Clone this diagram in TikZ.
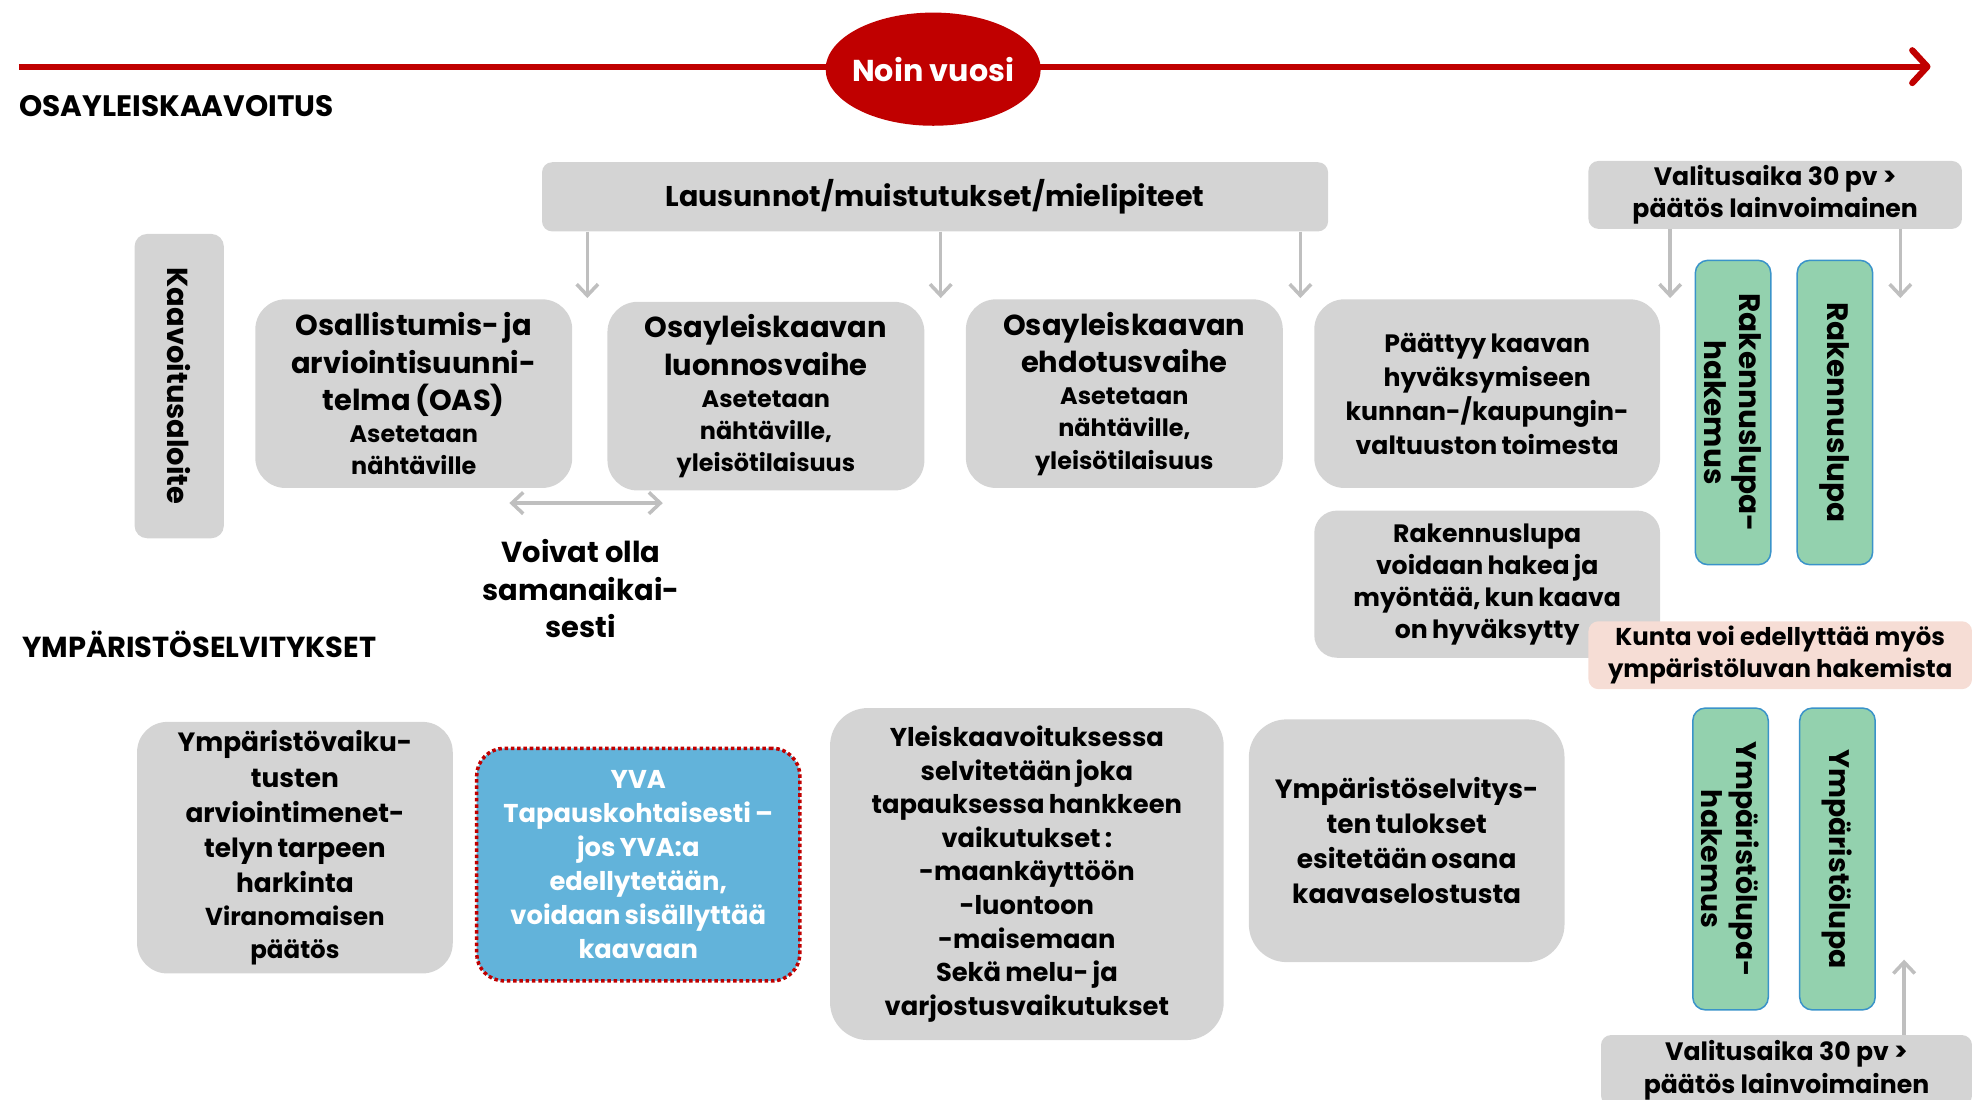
\documentclass[tikz,border=0pt]{standalone}
\usepackage{fontspec}
\setmainfont{Poppins}
\usetikzlibrary{shapes.geometric,arrows.meta}
\definecolor{kred}{HTML}{C00000}
\definecolor{boxgray}{HTML}{D4D4D4}
\definecolor{linegray}{HTML}{BFBFBF}
\definecolor{lupagreen}{HTML}{93D1AE}
\definecolor{lupaedge}{HTML}{3A93C9}
\definecolor{yvablue}{HTML}{62B3DA}
\definecolor{kuntapink}{HTML}{F6DDD5}
\newcommand{\fz}[2]{\fontsize{#1}{#2}\selectfont}
\hyphenpenalty=10000
\exhyphenpenalty=10000

\begin{document}
\begin{tikzpicture}[x=1pt,y=-1pt,
  >={Straight Barb[length=9pt,width=17pt]},
  graybox/.style={fill=boxgray, rounded corners=24pt, align=center, inner sep=0pt, font=\bfseries},
  flatbox/.style={fill=boxgray, rounded corners=8pt, align=center, inner sep=0pt, font=\bfseries\fz{20}{25.5}},
  lupabox/.style={draw=lupaedge, line width=1.2pt, fill=lupagreen, rounded corners=10pt, rotate=-90,
    align=center, inner sep=0pt, minimum height=60pt, font=\bfseries\fz{22.5}{28}},
  garrow/.style={draw=linegray, line width=2.8pt},
  heading/.style={anchor=west, font=\bfseries\fz{23.5}{27}}]
\useasboundingbox (0,0) rectangle (1568,874);

% aikajana
\coordinate (alku) at (15,53);
\coordinate (loppu) at (1535,53);
\draw[kred, line width=5pt, -{Straight Barb[length=12pt,width=26pt,round]}] (alku) -- (loppu);
\node[ellipse, fill=kred, inner xsep=-4pt, minimum width=171pt, minimum height=90pt, text=white, font=\bfseries\fz{24}{28}] (vuosi) at (742,55) {Noin vuosi};

\node[heading] (osa) at (12,84) {OSAYLEISKAAVOITUS};
\node[heading, font=\bfseries\fz{23}{27}] (ymp) at (14,512) {YMPÄRISTÖSELVITYKSET};

% kaavoitus
\node[flatbox, minimum width=625pt, minimum height=55pt, font=\bfseries\fz{22.7}{28}] (laus) at (743.5,156.5) {Lausunnot/muistutukset/mielipiteet};
\node[graybox, rounded corners=10pt, rotate=-90, minimum width=242pt, minimum height=71pt, font=\bfseries\fz{23}{26}] (aloite) at (142.5,307) {Kaavoitusaloite};
\node[graybox, minimum width=252pt, minimum height=150pt, text width=246pt] (oas) at (329,313)
  {\fz{23}{30}Osallistumis- ja\\arviointisuunni-\\telma (OAS)\par\fz{19}{25.5}Asetetaan\\nähtäville\par};
\node[graybox, minimum width=252pt, minimum height=150pt, text width=246pt] (luonnos) at (609,315)
  {\fz{23}{30}Osayleiskaavan\\luonnosvaihe\par\fz{19}{25.5}Asetetaan\\nähtäville,\\yleisötilaisuus\par};
\node[graybox, minimum width=252pt, minimum height=150pt, text width=246pt] (ehdotus) at (894,313)
  {\fz{23}{30}Osayleiskaavan\\ehdotusvaihe\par\fz{19}{25.5}Asetetaan\\nähtäville,\\yleisötilaisuus\par};
\node[graybox, minimum width=275pt, minimum height=150pt, text width=269pt] (paattyy) at (1182.5,313)
  {\fz{20}{27}Päättyy kaavan\\hyväksymiseen\\kunnan-/kaupungin-\\valtuuston toimesta\par};
\node[graybox, rounded corners=18pt, minimum width=275pt, minimum height=117pt, text width=269pt] (rlupa) at (1182.5,464.5)
  {\fz{20}{25.5}Rakennuslupa\\voidaan hakea ja\\myöntää, kun kaava\\on hyväksytty\par};
\node[flatbox, fill=kuntapink, minimum width=305pt, minimum height=54pt, font=\bfseries\fz{19.4}{25.5}] (kunta) at (1415.5,521)
  {Kunta voi edellyttää myös\\ympäristöluvan hakemista};
\node[flatbox, minimum width=297pt, minimum height=54pt] (valitus) at (1411.5,155)
  {Valitusaika 30 pv >\\päätös lainvoimainen};
\node[lupabox, minimum width=242pt, font=\bfseries\fz{23.5}{28}] (rlhak) at (1378,328) {Rakennuslupa-\\hakemus};
\node[lupabox, minimum width=242pt, font=\bfseries\fz{23.5}{28}] (rl) at (1459,328) {Rakennuslupa};

\coordinate (g1) at (467,237);
\coordinate (g2) at (748,237);
\coordinate (g3) at (1034,237);
\coordinate (v1) at (1328,237);
\coordinate (v2) at (1511,237);
\draw[garrow,->] (laus.south -| g1) -- (g1);
\draw[garrow,->] (laus.south -| g2) -- (g2);
\draw[garrow,->] (laus.south -| g3) -- (g3);
\draw[garrow,->] (valitus.south -| v1) -- (v1);
\draw[garrow,->] (valitus.south -| v2) -- (v2);

\coordinate (va) at (405,400);
\coordinate (vb) at (527,400);
\draw[garrow,<->] (va) -- (vb);
\node[align=center, font=\bfseries\fz{23}{30}] (voivat) at (462,468) {Voivat olla\\samanaikai-\\sesti};

% ympäristöselvitykset
\node[graybox, minimum width=251pt, minimum height=200pt, text width=245pt] (harkinta) at (234.5,674)
  {\fz{21}{28}Ympäristövaiku-\\tusten\\arviointimenet-\\telyn tarpeen\\harkinta\par\fz{19.5}{26}Viranomaisen\\päätös\par};
\node[graybox, fill=yvablue, draw=kred, line width=2.8pt, dash pattern=on 2.8pt off 2.2pt, rounded corners=22pt,
  minimum width=257pt, minimum height=185pt, text width=251pt, text=white] (yva) at (507.5,687.5)
  {\fz{20.5}{27}YVA\\Tapauskohtaisesti –\\jos YVA:a\\edellytetään,\\voidaan sisällyttää\\kaavaan\par};
\node[graybox, rounded corners=30pt, minimum width=313pt, minimum height=264pt, text width=307pt] (yleis) at (816.5,695)
  {\fz{20.5}{26.75}Yleiskaavoituksessa\\selvitetään joka\\tapauksessa hankkeen\\vaikutukset :\\-maankäyttöön\\-luontoon\\-maisemaan\\Sekä melu- ja\\varjostusvaikutukset\par};
\node[graybox, rounded corners=30pt, minimum width=251pt, minimum height=193pt, text width=245pt] (tulokset) at (1118.5,668.5)
  {\fz{21}{27.7}Ympäristöselvitys-\\ten tulokset\\esitetään osana\\kaavaselostusta\par};
\node[lupabox, minimum width=240pt] (ylhak) at (1376,683) {Ympäristölupa-\\hakemus};
\node[lupabox, minimum width=240pt] (yl) at (1461,683) {Ympäristölupa};
\node[flatbox, minimum width=295pt, minimum height=56pt] (valitus2) at (1420.5,851)
  {Valitusaika 30 pv >\\päätös lainvoimainen};
\coordinate (v3) at (1514,763);
\draw[garrow,->] (valitus2.north -| v3) -- (v3);
\end{tikzpicture}
\end{document}
